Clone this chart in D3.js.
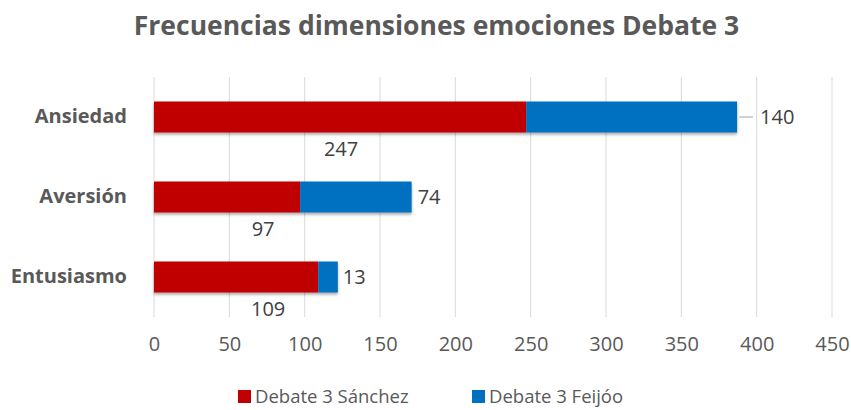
<!DOCTYPE html>
<html lang="es">
<head>
<meta charset="utf-8">
<script src="https://cdn.jsdelivr.net/npm/d3@7"></script>
<style>
  html, body { margin: 0; padding: 0; background: #ffffff; }
  svg { display: block; font-family: "Open Sans", "Noto Sans", sans-serif; }
</style>
</head>
<body>
<svg id="chart" width="851" height="410"></svg>
<script>
// Emotion dimensions and their frequencies per candidate
const categories = ["Ansiedad", "Aversión", "Entusiasmo"];
const seriesNames = ["Debate 3 Sánchez", "Debate 3 Feijóo"];
const sanchez = [247, 97, 109];
const feijoo = [140, 74, 13];
const xTicks = [0, 50, 100, 150, 200, 250, 300, 350, 400, 450];
const titleText = "Frecuencias dimensiones emociones Debate 3";

const colors = ["#C00000", "#0070C0"];
const W = 851, H = 410;
const margin = { top: 77, right: 19, bottom: 93, left: 154 };

const svg = d3.select("#chart");

const rows = categories.map((c, i) => ({ cat: c, s: sanchez[i], f: feijoo[i] }));
const stacked = d3.stack().keys(["s", "f"])(rows);

const x = d3.scaleLinear().domain([0, 450]).range([margin.left, W - margin.right]);
const y = d3.scaleBand().domain(categories)
  .range([margin.top, H - margin.bottom])
  .paddingInner(0.6125).paddingOuter(0.30625);

// soft shadow under the bars
const defs = svg.append("defs");
const f = defs.append("filter").attr("id", "shadow")
  .attr("x", "-5%").attr("y", "-30%").attr("width", "110%").attr("height", "170%");
f.append("feDropShadow").attr("dx", 0).attr("dy", 2).attr("stdDeviation", 1.8)
  .attr("flood-color", "#000").attr("flood-opacity", 0.35);

// title
svg.append("text")
  .attr("x", 436.5).attr("y", 35)
  .attr("text-anchor", "middle")
  .attr("font-size", 26.5).attr("font-weight", 700)
  .attr("fill", "#595959")
  .text(titleText);

// vertical gridlines
svg.append("g").selectAll("line").data(xTicks).join("line")
  .attr("x1", d => x(d)).attr("x2", d => x(d))
  .attr("y1", margin.top).attr("y2", H - margin.bottom)
  .attr("stroke", "#D9D9D9").attr("stroke-width", 1);

// x axis labels
const xAxis = d3.axisBottom(x).tickValues(xTicks).tickSize(0).tickPadding(0);
const gx = svg.append("g").attr("transform", `translate(0,${H - margin.bottom + 20})`).call(xAxis);
gx.select(".domain").remove();
gx.selectAll("text").attr("font-size", 20).attr("fill", "#595959")
  .attr("font-family", "\"Open Sans\", sans-serif");

// category labels
const yAxis = d3.axisLeft(y).tickSize(0).tickPadding(27);
const gy = svg.append("g").attr("transform", `translate(${margin.left},0)`).call(yAxis);
gy.select(".domain").remove();
gy.selectAll("text").attr("font-size", 20).attr("font-weight", 700).attr("fill", "#595959")
  .attr("font-family", "\"Open Sans\", sans-serif");

// stacked bars
svg.append("g").attr("filter", "url(#shadow)")
  .selectAll("g").data(stacked).join("g")
  .attr("fill", (d, i) => colors[i])
  .selectAll("rect").data(d => d).join("rect")
  .attr("x", d => x(d[0]))
  .attr("width", d => x(d[1]) - x(d[0]))
  .attr("y", d => y(d.data.cat))
  .attr("height", y.bandwidth());

// Sánchez value labels, set below the red segment
const sNudge = [1, 36, 32];
svg.append("g").selectAll("text").data(rows).join("text")
  .attr("x", (d, i) => (x(0) + x(d.s)) / 2 + sNudge[i])
  .attr("y", d => y(d.cat) + y.bandwidth() + 23)
  .attr("text-anchor", "middle")
  .attr("font-size", 20).attr("fill", "#404040")
  .text(d => d.s);

// Feijóo value labels at the end of each bar (first one with a leader line)
const fGap = [23, 6, 5];
svg.append("g").selectAll("line").data(rows.filter((d, i) => fGap[i] > 12)).join("line")
  .attr("x1", d => x(d.s + d.f) + 2).attr("x2", d => x(d.s + d.f) + 16)
  .attr("y1", d => y(d.cat) + y.bandwidth() / 2).attr("y2", d => y(d.cat) + y.bandwidth() / 2)
  .attr("stroke", "#A6A6A6").attr("stroke-width", 1);
svg.append("g").selectAll("text").data(rows).join("text")
  .attr("x", (d, i) => x(d.s + d.f) + fGap[i])
  .attr("y", d => y(d.cat) + y.bandwidth() / 2 + 7)
  .attr("font-size", 20).attr("fill", "#404040")
  .text(d => d.f);

// legend
const legendX = [238, 472];
const lg = svg.append("g").selectAll("g").data(seriesNames).join("g")
  .attr("transform", (d, i) => `translate(${legendX[i]},390)`);
lg.append("rect").attr("width", 13).attr("height", 13).attr("fill", (d, i) => colors[i]);
lg.append("text").attr("x", 17).attr("y", 12.5)
  .attr("font-size", 18.5).attr("fill", "#595959")
  .text(d => d);
</script>
</body>
</html>
